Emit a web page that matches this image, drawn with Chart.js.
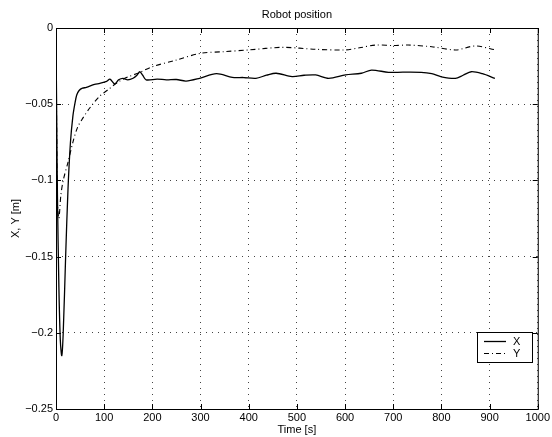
<!DOCTYPE html>
<html><head><meta charset="utf-8">
<script src="https://cdn.jsdelivr.net/npm/chart.js@4"></script>
<style>html,body{margin:0;padding:0;background:#fff}#c{display:block}</style>
</head><body>
<canvas id="c" width="552" height="437"></canvas>
<script>
const titleText = "Robot position";
const xTitle = "Time [s]";
const yTitle = "X, Y [m]";
const seriesNames = ["X", "Y"];
const xTickValues = [0,100,200,300,400,500,600,700,800,900,1000];
const yTickValues = [0,-0.05,-0.1,-0.15,-0.2,-0.25];
const yTickLabels = ["0","\u22120.05","\u22120.1","\u22120.15","\u22120.2","\u22120.25"];

const tX = [0,1.5,3,6,9,12,15,20,25,30,35,39,43,48,55,63,80,91,105,112,122,130,139,149,160,168,174,180,187,210,229,250,270,298,333,366,390,415,437,457,490,515,539,566,601,634,655,690,720,758,780,800,829,845,862,885,911];
const xVals = [-0.005,-0.06,-0.11,-0.17,-0.205,-0.215,-0.2,-0.15,-0.105,-0.075,-0.058,-0.05,-0.044,-0.041,-0.0395,-0.039,-0.037,-0.0363,-0.035,-0.0335,-0.0367,-0.034,-0.033,-0.034,-0.033,-0.031,-0.0287,-0.031,-0.034,-0.0335,-0.034,-0.0338,-0.0348,-0.033,-0.030,-0.0324,-0.0325,-0.033,-0.031,-0.0297,-0.0319,-0.031,-0.0308,-0.033,-0.0308,-0.0297,-0.0276,-0.0291,-0.029,-0.0291,-0.030,-0.032,-0.033,-0.031,-0.0287,-0.030,-0.033];

const tY = [0,1.5,3,6,10,15,25,35,45,56,70,90,110,130,150,170,200,250,300,350,400,470,540,600,630,663,700,731,780,830,870,913];
const yVals = [-0.01,-0.07,-0.115,-0.125,-0.11,-0.1,-0.088,-0.075,-0.065,-0.059,-0.0525,-0.045,-0.04,-0.0352,-0.032,-0.0297,-0.0254,-0.021,-0.0166,-0.0155,-0.0144,-0.0127,-0.014,-0.0144,-0.013,-0.0112,-0.0115,-0.0112,-0.0123,-0.0144,-0.0118,-0.0144];

const FONT = "'Liberation Sans', Arial, sans-serif";

const framePlugin = {
  id: 'frame',
  afterDraw(chart) {
    const {ctx, chartArea: a, scales} = chart;
    ctx.save();
    ctx.strokeStyle = '#000';
    ctx.lineWidth = 1;
    ctx.setLineDash([]);
    ctx.strokeRect(a.left + 0.5, a.top + 0.5, a.right - a.left, a.bottom - a.top);
    ctx.beginPath();
    xTickValues.forEach(v => {
      const px = Math.round(scales.x.getPixelForValue(v)) + 0.5;
      ctx.moveTo(px, a.bottom); ctx.lineTo(px, a.bottom - 5);
      ctx.moveTo(px, a.top); ctx.lineTo(px, a.top + 5);
    });
    yTickValues.forEach(v => {
      const py = Math.round(scales.y.getPixelForValue(v)) + 0.5;
      ctx.moveTo(a.left, py); ctx.lineTo(a.left + 5, py);
      ctx.moveTo(a.right, py); ctx.lineTo(a.right - 5, py);
    });
    ctx.stroke();
    ctx.fillStyle = '#000';
    ctx.font = '11px ' + FONT;
    ctx.textAlign = 'center';
    ctx.textBaseline = 'middle';
    ctx.fillText(titleText, (a.left + a.right) / 2, 15);
    const lx = 477, ly = 332, lw = 55, lh = 30;
    ctx.fillStyle = '#fff';
    ctx.fillRect(lx, ly, lw, lh);
    ctx.strokeStyle = '#000';
    ctx.strokeRect(lx + 0.5, ly + 0.5, lw, lh);
    chart.data.datasets.forEach((ds, i) => {
      const yy = ly + 9 + i * 12;
      ctx.beginPath();
      ctx.setLineDash(ds.borderDash || []);
      ctx.lineWidth = ds.borderWidth;
      ctx.moveTo(lx + 7, yy + 0.5); ctx.lineTo(lx + 29, yy + 0.5);
      ctx.stroke();
      ctx.setLineDash([]);
      ctx.fillStyle = '#000';
      ctx.textAlign = 'left';
      ctx.fillText(ds.label, lx + 36, yy + 1);
    });
    ctx.restore();
  }
};

new Chart(document.getElementById('c'), {
  type: 'line',
  data: {
    datasets: [
      { label: seriesNames[0], data: tX.map((t, i) => ({x: t, y: xVals[i]})),
        borderColor: '#000', borderWidth: 1.3, pointRadius: 0, tension: 0.3, fill: false },
      { label: seriesNames[1], data: tY.map((t, i) => ({x: t, y: yVals[i]})),
        borderColor: '#000', borderWidth: 1.1, borderDash: [5, 3, 1, 3], pointRadius: 0, tension: 0.3, fill: false }
    ]
  },
  options: {
    responsive: false,
    animation: false,
    layout: { padding: { top: 28, right: 12, left: 9, bottom: 0 } },
    plugins: { legend: { display: false }, tooltip: { enabled: false }, title: { display: false } },
    scales: {
      x: {
        type: 'linear', min: 0, max: 1000,
        afterBuildTicks: s => { s.ticks = xTickValues.map(v => ({value: v})); },
        afterFit: s => { s.height = 28; },
        ticks: { color: '#000', font: { family: FONT, size: 11 }, padding: 2, maxRotation: 0,
                 callback: v => String(v) },
        grid: { color: '#444', lineWidth: 1, drawTicks: false },
        border: { display: false, dash: [1, 5] },
        title: { display: true, text: xTitle, color: '#000', font: { family: FONT, size: 11 }, padding: { top: 0, bottom: 0 } }
      },
      y: {
        type: 'linear', min: -0.25, max: 0,
        afterBuildTicks: s => { s.ticks = yTickValues.map(v => ({value: v})); },
        afterFit: s => { s.width = 47; },
        ticks: { color: '#000', font: { family: FONT, size: 11 }, padding: 3,
                 callback: (v) => { const i = yTickValues.findIndex(t => Math.abs(t - v) < 1e-9); return i >= 0 ? yTickLabels[i] : ''; } },
        grid: { color: '#444', lineWidth: 1, drawTicks: false },
        border: { display: false, dash: [1, 5] },
        title: { display: true, text: yTitle, color: '#000', font: { family: FONT, size: 11 }, padding: { top: 0, bottom: 4 } }
      }
    }
  },
  plugins: [framePlugin]
});
</script>
</body></html>
